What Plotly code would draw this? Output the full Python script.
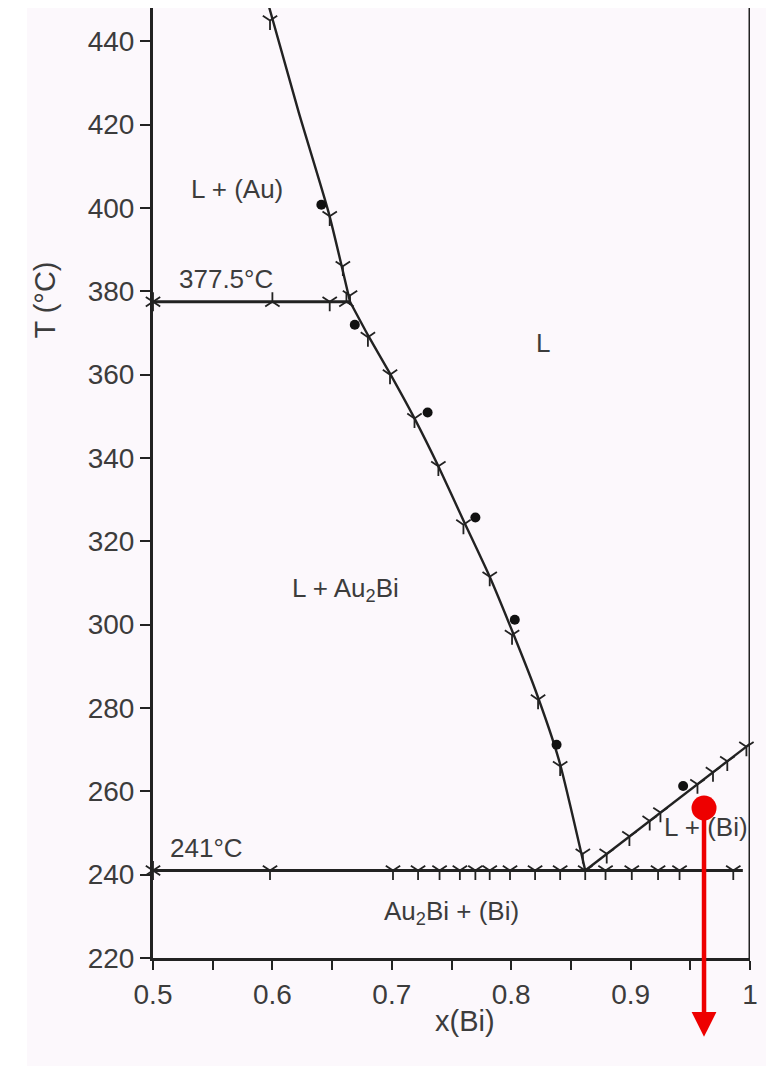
import plotly.graph_objects as go

# ---- phase boundaries of the Au-Bi system (x = mole fraction Bi, T in °C) ----
au_liq_x = [0.5955, 0.622, 0.647, 0.665]
au_liq_T = [450.0, 423.0, 399.0, 377.5]

au2bi_liq_x = [0.665, 0.680, 0.699, 0.719, 0.739, 0.760, 0.782, 0.8015, 0.820, 0.840, 0.862]
au2bi_liq_T = [377.5, 369.5, 360.0, 349.5, 338.0, 325.0, 311.5, 298.0, 284.5, 267.5, 241.0]

bi_liq_x = [0.862, 1.0]
bi_liq_T = [241.0, 271.4]

peritectic_x = [0.5, 0.665]
peritectic_T = [377.5, 377.5]

eutectic_x = [0.5, 0.994]
eutectic_T = [241.0, 241.0]

# ---- experimental points ----
dots_x = [0.641, 0.669, 0.730, 0.770, 0.803, 0.838, 0.944]
dots_T = [400.8, 372.0, 350.9, 325.7, 301.2, 271.2, 261.3]

arrest_x = ([0.598, 0.701, 0.722, 0.740, 0.757, 0.770, 0.782, 0.799, 0.820, 0.841,
             0.862, 0.879, 0.901, 0.923, 0.941, 0.986]
            + [0.680, 0.6985, 0.719, 0.739, 0.760, 0.782, 0.8007, 0.8225, 0.841, 0.860]
            + [0.598, 0.648, 0.659, 0.665]
            + [0.880, 0.899, 0.916, 0.925, 0.956, 0.969, 0.981, 0.997]
            + [0.648, 0.5, 0.5])
arrest_T = ([241.0] * 16
            + [369.0, 360.0, 349.5, 338.0, 324.0, 311.5, 297.5, 282.0, 266.0, 245.0]
            + [445.0, 398.0, 386.0, 379.0]
            + [245.0, 249.2, 252.9, 254.9, 261.7, 264.6, 267.2, 270.7]
            + [377.5, 377.5, 241.0])

heat_x = [0.600, 0.662, 0.5, 0.5]
heat_T = [377.5, 377.5, 377.5, 241.0]

# ---- highlighted point ----
mark_x = [0.9615]
mark_T = [256.0]

x_ticks = [0.5, 0.6, 0.7, 0.8, 0.9, 1.0]
x_ticktext = ["0.5", "0.6", "0.7", "0.8", "0.9", "1"]
y_ticks = [220, 240, 260, 280, 300, 320, 340, 360, 380, 400, 420, 440]

FONT = "Liberation Sans, Arial, Helvetica, sans-serif"
INK = "#222222"
TXT = "#3c3c3c"
BG = "#fcf8fc"

fig = go.Figure()

for xs, ts, w in [(au_liq_x, au_liq_T, 2.4), (au2bi_liq_x, au2bi_liq_T, 2.4),
                  (bi_liq_x, bi_liq_T, 2.4), (peritectic_x, peritectic_T, 2.8),
                  (eutectic_x, eutectic_T, 2.8)]:
    fig.add_trace(go.Scatter(x=xs, y=ts, mode="lines",
                             line=dict(color=INK, width=w, shape="spline",
                                       smoothing=0.6),
                             showlegend=False, hoverinfo="skip"))

fig.add_trace(go.Scatter(x=arrest_x, y=arrest_T, mode="markers", showlegend=False,
                         cliponaxis=False,
                         marker=dict(symbol="y-down", size=12,
                                     line=dict(color=INK, width=1.8))))
fig.add_trace(go.Scatter(x=heat_x, y=heat_T, mode="markers", showlegend=False,
                         cliponaxis=False,
                         marker=dict(symbol="y-up", size=12,
                                     line=dict(color=INK, width=1.8))))
fig.add_trace(go.Scatter(x=dots_x, y=dots_T, mode="markers", showlegend=False,
                         marker=dict(symbol="circle", size=10, color="#111111")))

# region and temperature labels
labels = [
    (0.570, 404.5, "L + (Au)"),
    (0.561, 383.0, "377.5°C"),
    (0.827, 367.5, "L"),
    (0.661, 308.5, "L + Au<sub>2</sub>Bi"),
    (0.545, 246.5, "241°C"),
    (0.750, 231.0, "Au<sub>2</sub>Bi + (Bi)"),
    (0.963, 251.5, "L + (Bi)"),
]
for lx, ly, txt in labels:
    fig.add_annotation(x=lx, y=ly, text=txt, showarrow=False,
                       xanchor="center", yanchor="middle",
                       font=dict(family=FONT, size=26, color=TXT))

# highlighted point with a downward arrow
fig.add_trace(go.Scatter(x=mark_x, y=mark_T, mode="markers", showlegend=False,
                         cliponaxis=False,
                         marker=dict(symbol="circle", size=25, color="#ee0000")))
fig.add_annotation(x=mark_x[0], y=-0.083, xref="x", yref="paper",
                   ax=0, ay=-229, axref="pixel", ayref="pixel",
                   text="", showarrow=True, arrowhead=2, arrowsize=1.1,
                   arrowwidth=4.5, arrowcolor="#ee0000")

# axis titles
fig.add_annotation(x=-0.181, y=0.693, xref="paper", yref="paper", text="T (°C)",
                   textangle=-90, showarrow=False, xanchor="center", yanchor="middle",
                   font=dict(family=FONT, size=29, color=TXT))
fig.add_annotation(x=0.5226, y=-0.066, xref="paper", yref="paper", text="x(Bi)",
                   showarrow=False, xanchor="center", yanchor="middle",
                   font=dict(family=FONT, size=29, color=TXT))

# right frame line and page strips
fig.add_shape(type="line", xref="x", yref="paper", x0=1.0, x1=1.0, y0=0, y1=1,
              line=dict(color=INK, width=3))
fig.add_shape(type="rect", xref="paper", yref="paper", x0=-0.26, x1=-0.211,
              y0=-0.12, y1=1.01, line=dict(width=0), fillcolor="white", layer="below")
fig.add_shape(type="rect", xref="paper", yref="paper", x0=-0.26, x1=1.03,
              y0=1.0, y1=1.01, line=dict(width=0), fillcolor="white", layer="below")

fig.update_layout(
    width=766, height=1066,
    margin=dict(l=153, r=16, t=8, b=108),
    paper_bgcolor=BG, plot_bgcolor=BG,
    font=dict(family=FONT, size=28, color=TXT),
    showlegend=False,
    xaxis=dict(range=[0.5, 1.0], tickvals=x_ticks, ticktext=x_ticktext,
               showgrid=False, zeroline=False, showline=True, linecolor=INK,
               linewidth=3, ticks="outside", ticklen=9, tickwidth=2,
               tickcolor=INK, ticklabelstandoff=0,
               minor=dict(dtick=0.05, tick0=0.5, ticks="outside", ticklen=9,
                          tickwidth=2, tickcolor=INK, showgrid=False)),
    yaxis=dict(range=[220, 448], tickvals=y_ticks, showgrid=False,
               zeroline=False, showline=True, linecolor=INK, linewidth=3,
               ticks="outside", ticklen=10, tickwidth=2, tickcolor=INK,
               ticklabelstandoff=0),
)

fig.write_html("out.html")
